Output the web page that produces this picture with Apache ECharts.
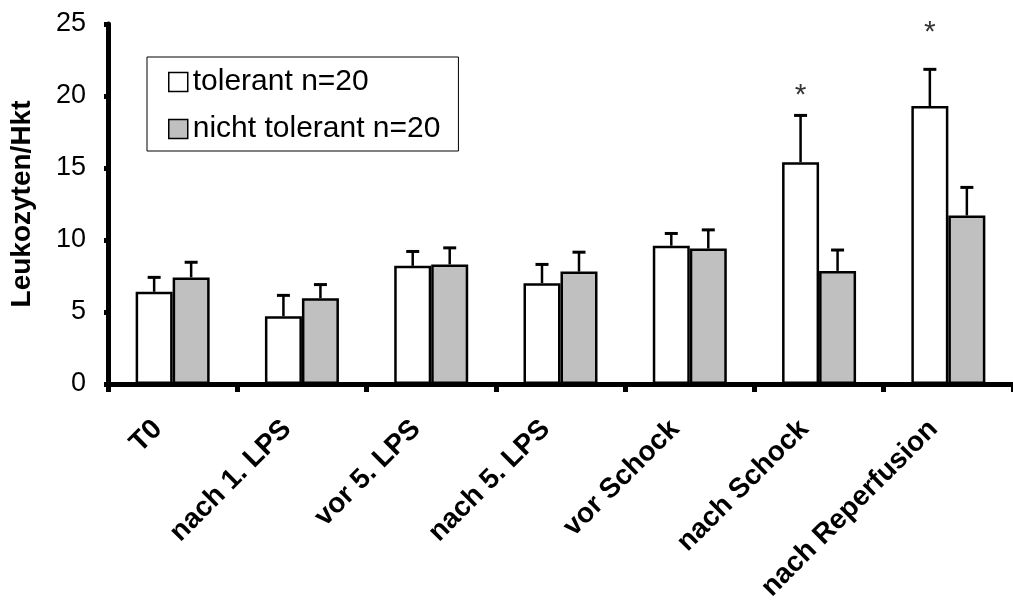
<!DOCTYPE html>
<html>
<head>
<meta charset="utf-8">
<script src="https://cdn.jsdelivr.net/npm/echarts@6/dist/echarts.min.js"></script>
<style>html,body{margin:0;padding:0;background:#fff;}#c{width:1013px;height:604px;}</style>
</head>
<body>
<div id="c"></div>
<script>
const categories = ['T0', 'nach 1. LPS', 'vor 5. LPS', 'nach 5. LPS', 'vor Schock', 'nach Schock', 'nach Reperfusion'];
const tolMean = [6.4, 4.7, 8.2, 7.0, 9.6, 15.4, 19.3];
const tolSD   = [1.0, 1.45, 1.0, 1.3, 0.85, 3.25, 2.55];
const nonMean = [7.4, 5.95, 8.3, 7.8, 9.4, 7.85, 11.7];
const nonSD   = [1.05, 0.95, 1.15, 1.35, 1.3, 1.45, 1.95];
const sigMarks = [null, null, null, null, null, 20.0, 24.4];
const yTicks = [0, 5, 10, 15, 20, 25];
const seriesNames = ['tolerant n=20', 'nicht tolerant n=20'];

const FONT = "'Liberation Sans', Arial, sans-serif";
const BW = 37;
const GRAY = '#c0c0c0';

function errSeries(mean, sd, dir) {
  return {
    type: 'custom',
    z: 5,
    silent: true,
    data: mean.map((m, i) => [i, m, sd[i]]),
    renderItem: function (params, api) {
      const i = api.value(0), m = api.value(1), s = api.value(2);
      const p0 = api.coord([i, m]);
      const p1 = api.coord([i, m + s]);
      const x = p0[0] + dir * BW / 2;
      return {
        type: 'group',
        children: [
          { type: 'line', shape: { x1: x, y1: p0[1], x2: x, y2: p1[1] }, style: { stroke: '#000', lineWidth: 2.5 } },
          { type: 'line', shape: { x1: x - 6.5, y1: p1[1], x2: x + 6.5, y2: p1[1] }, style: { stroke: '#000', lineWidth: 3 } }
        ]
      };
    }
  };
}

const chart = echarts.init(document.getElementById('c'), null, { renderer: 'canvas' });
chart.setOption({
  animation: false,
  backgroundColor: '#fff',
  grid: { left: 106, top: 24, width: 914, height: 362, containLabel: false },
  legend: {
    left: 147, top: 57,
    orient: 'vertical',
    itemWidth: 19, itemHeight: 19, itemGap: 17, itemTextGap: 6,
    padding: [10, 18, 7, 21],
    borderColor: '#000', borderWidth: 1,
    backgroundColor: '#fff',
    icon: 'rect',
    textStyle: { fontSize: 30, fontFamily: FONT, color: '#000', lineHeight: 28 },
    data: [
      { name: seriesNames[0], itemStyle: { color: '#fff', borderColor: '#000', borderWidth: 1.5 } },
      { name: seriesNames[1], itemStyle: { color: GRAY, borderColor: '#000', borderWidth: 1.5 } }
    ]
  },
  xAxis: {
    type: 'category',
    data: categories,
    axisLine: { lineStyle: { color: '#000', width: 5 } },
    axisTick: { show: true, interval: 0, length: 8, lineStyle: { color: '#000', width: 5 } },
    axisLabel: { interval: 0, rotate: 45, margin: 26, padding: [0, 21, 0, 0], fontSize: 28, fontWeight: 'bold', fontFamily: FONT, color: '#000' },
    splitLine: { show: false }
  },
  yAxis: {
    type: 'value',
    min: yTicks[0], max: yTicks[yTicks.length - 1], interval: 5,
    name: 'Leukozyten/Hkt',
    nameLocation: 'middle',
    nameGap: 72,
    nameTextStyle: { fontSize: 28, fontWeight: 'bold', fontFamily: FONT, color: '#000' },
    axisLine: { show: true, lineStyle: { color: '#000', width: 5 } },
    axisTick: { show: true, length: 4, lineStyle: { color: '#000', width: 5 } },
    axisLabel: { margin: 22, fontSize: 27, fontFamily: FONT, color: '#000' },
    splitLine: { show: false }
  },
  series: [
    {
      name: seriesNames[0], type: 'bar', data: tolMean, barWidth: BW, barGap: '0%',
      itemStyle: { color: '#fff', borderColor: '#000', borderWidth: 2.5 }
    },
    {
      name: seriesNames[1], type: 'bar', data: nonMean, barWidth: BW, barGap: '0%',
      itemStyle: { color: GRAY, borderColor: '#000', borderWidth: 2.5 }
    },
    errSeries(tolMean, tolSD, -1),
    errSeries(nonMean, nonSD, 1),
    {
      type: 'scatter',
      data: sigMarks,
      symbolSize: 0,
      silent: true,
      label: { show: true, formatter: '*', position: 'inside', offset: [-BW / 2, 0], fontSize: 30, fontFamily: FONT, color: '#000' }
    }
  ]
});
</script>
</body>
</html>
